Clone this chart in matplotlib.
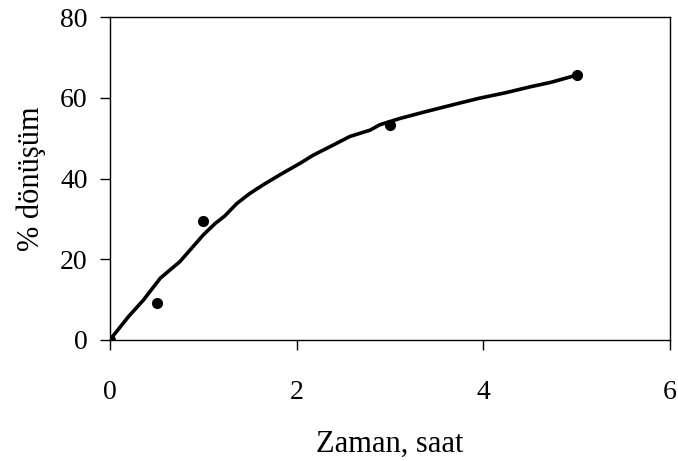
import matplotlib
matplotlib.use("Agg")
import matplotlib.pyplot as plt

# olculen noktalar
t_olcum = [0, 0.5, 1, 3, 5]
donusum_olcum = [0, 9.1, 29.5, 53.2, 65.6]

# egri
t_egri = [0, 0.2, 0.36, 0.54, 0.75, 0.86, 1.0, 1.13, 1.23, 1.36, 1.5, 1.64,
          1.82, 2.04, 2.18, 2.36, 2.57, 2.79, 2.89, 3.11, 3.39, 3.68, 3.96,
          4.25, 4.5, 4.72, 5.0]
donusum_egri = [0, 5.8, 9.9, 15.3, 19.4, 22.3, 26.0, 28.9, 30.7, 33.8, 36.3, 38.4,
                40.9, 43.8, 45.8, 47.9, 50.4, 52.0, 53.3, 54.9, 56.6, 58.3, 59.9,
                61.3, 62.7, 63.8, 65.6]

plt.rcParams['font.family'] = ['Liberation Serif', 'DejaVu Serif']

fig = plt.figure(figsize=(6.78, 4.61), dpi=100)
ax = fig.add_axes([0.162, 0.2625, 0.826, 0.7005])

ax.plot(t_egri, donusum_egri, color='black', linewidth=2.6)
ax.plot(t_olcum, donusum_olcum, 'o', color='black', markersize=7)

ax.set_xlim(0, 6)
ax.set_ylim(0, 80)
ax.set_xticks([0, 2, 4, 6])
ax.set_yticks([0, 20, 40, 60, 80])
ax.tick_params(direction='out', length=7, width=1, labelsize=20)
ax.tick_params(axis='x', pad=22)
ax.tick_params(axis='y', pad=9)
for s in ax.spines.values():
    s.set_linewidth(1)

ax.set_xlabel('Zaman, saat', fontsize=22, labelpad=18)
ax.set_ylabel('% dönüşüm', fontsize=22, labelpad=10)

fig.savefig('out.png', dpi=100)
